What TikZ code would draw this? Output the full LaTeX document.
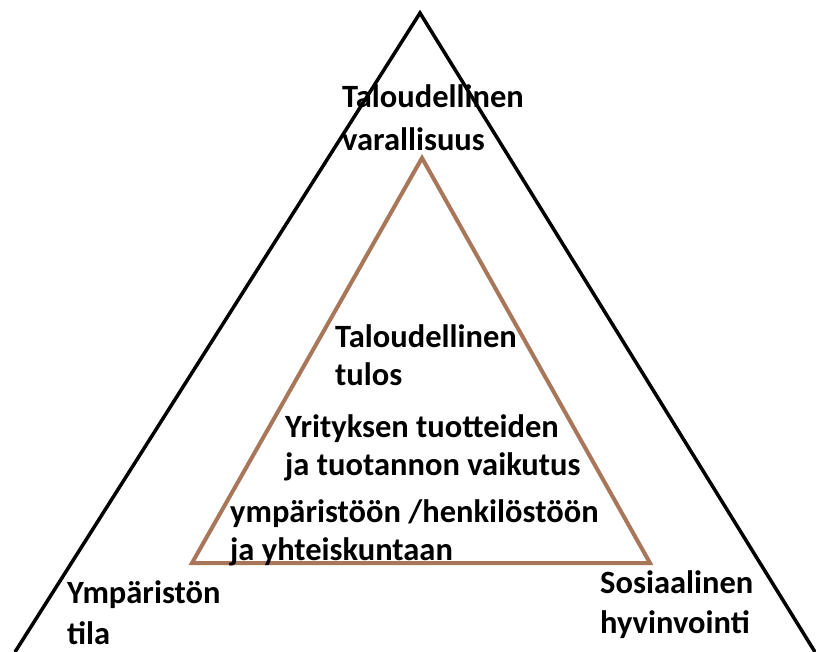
\documentclass[tikz,border=0pt]{standalone}
\usepackage{fontspec}
\setmainfont{Carlito}
\usepackage{tikz}
\usetikzlibrary{positioning}
\definecolor{linebrown}{RGB}{168,118,88}

\begin{document}
\begin{tikzpicture}[x=1pt,y=-1pt]
	
	\tikzset{outer line/.style={draw=black, line width=3.5pt, line join=miter},
		inner line/.style={draw=linebrown, line width=4pt, line join=miter},
		label/.style={anchor=base west, align=left, inner sep=0pt,
			font=\bfseries\fontsize{32.5}{#1}\selectfont},
		label/.default=40
	}
	
	\clip (0,0) rectangle (816,652);
	\fill[white] (0,0) rectangle (816,652);
	
	% corners of the two triangles
	\coordinate (top) at (420,13);
	\coordinate (left) at (15,652);
	\coordinate (right) at (815,652);
	\coordinate (itop) at (422,158);
	\coordinate (ileft) at (192,563);
	\coordinate (iright) at (650,563);
	
	\draw[outer line] (left) -- (top) -- (right);
	\draw[inner line] (ileft) -- (itop) -- (iright) -- cycle;
	
	% texts (anchored at the baseline of the last line)
	\node[label=43] (wealth) at (342,151) {Taloudellinen\\varallisuus};
	\node[label=38] (result) at (335,385) {Taloudellinen\\tulos};
	\node[label=38] (effect) at (285,475) {Yrityksen tuotteiden\\ja tuotannon vaikutus};
	\node[label=38] (society) at (230,560) {ympäristöön /henkilöstöön\\ja yhteiskuntaan};
	\node[label=41] (environment) at (67,644) {Ympäristön\\tila};
	\node[label=40] (welfare) at (600,633) {Sosiaalinen\\hyvinvointi};
	
\end{tikzpicture}
\end{document}
